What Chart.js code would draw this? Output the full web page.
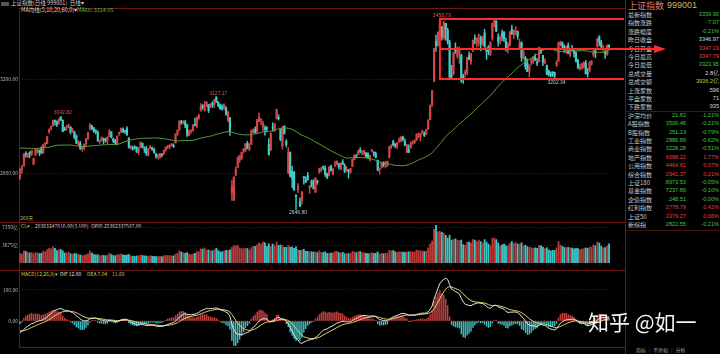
<!DOCTYPE html>
<html>
<head>
<meta charset="utf-8">
<script src="https://cdn.jsdelivr.net/npm/chart.js@4.4.0/dist/chart.umd.min.js"></script>
<style>
  body { margin: 0; background: #000; width: 720px; height: 354px; overflow: hidden; position: relative;
         font-family: "Noto Sans CJK SC", "Noto Sans", sans-serif; }
  .t { position: absolute; white-space: nowrap; line-height: 1; }
  .ln { position: absolute; background: #6e1717; }
  canvas { position: absolute; left: 0; z-index: 2; }
  #panel .t { font-size: 6px; }
  #panel .n { font-family: "Liberation Sans", sans-serif; font-size: 5.6px; }
</style>
</head>
<body>

<!-- frame -->
<div class="ln" style="left:19px;top:8px;width:606px;height:1px"></div>
<div class="ln" style="left:0;top:222px;width:625px;height:1px"></div>
<div class="ln" style="left:0;top:270px;width:625px;height:1px"></div>
<div class="ln" style="left:19px;top:347px;width:606px;height:1px"></div>
<div class="ln" style="left:19px;top:8px;width:1px;height:340px"></div>
<div class="ln" style="left:625px;top:0;width:1px;height:354px"></div>
<div class="ln" style="left:625px;top:111px;width:95px;height:1px;background:#4a1010"></div>
<div class="ln" style="left:625px;top:230px;width:95px;height:1px;background:#4a1010"></div>

<!-- header texts -->
<div class="t" style="left:1px;top:2px;width:8px;height:4px;background:#555"></div>
<div class="t" style="left:11px;top:1px;font-size:5.5px;color:#d0d0d0">上证指数(日线 999001)&nbsp;&nbsp;日线▾</div>
<div class="t" style="left:21px;top:8px;font-size:5.5px;color:#d8d8b0">MA均线(5,10,20,60,0)▾</div>
<div class="t" style="left:77px;top:8px;font-size:5.5px;color:#4ec04e">MA60: 3314.05</div>
<div class="t" style="left:20px;top:215px;font-size:5px;color:#c8a848">268天</div>
<div class="t" style="left:21px;top:223px;font-size:5px;color:#d8c848">CL▾</div>
<div class="t" style="left:35px;top:223px;font-size:5px;color:#d0d0d0">28363247616.00(3.100)</div>
<div class="t" style="left:91px;top:223px;font-size:5px;color:#d0d0d0">OPID 25362337587.00</div>
<div class="t" style="left:21px;top:271px;font-size:5px;color:#d8c848">MACD(12,26,9)▾</div>
<div class="t" style="left:60px;top:271px;font-size:5px;color:#e0e0e0">DIF 12.80</div>
<div class="t" style="left:87px;top:271px;font-size:5px;color:#d8c848">DEA 7.04</div>
<div class="t" style="left:112px;top:271px;font-size:5px;color:#d0c080">11.68</div>

<div id="panel"></div>

<div class="t" style="left:636px;top:347px;font-size:5px;color:#a0a0a0">指标 │ 不复权 │ 分析</div>
<div class="t" style="left:588px;top:311px;font-size:21px;color:#f4f4f4;z-index:3">知乎 @如一</div>

<canvas id="kline" width="720" height="214" style="top:8px"></canvas>
<canvas id="vol" width="720" height="48" style="top:222px"></canvas>
<canvas id="macd" width="720" height="84" style="top:270px"></canvas>

<script>
// trading days, month by month
const months = ['2019/08','2019/09','2019/10','2019/11','2019/12','2020/01','2020/02','2020/03',
                '2020/04','2020/05','2020/06','2020/07','2020/08','2020/09','2020/10','2020/11'];
const monthDays = [
  [15,16,19,20,21,22,23,26,27,28,29,30],
  [2,3,4,5,6,9,10,11,12,16,17,18,19,20,23,24,25,26,27,30],
  [8,9,10,11,14,15,16,17,18,21,22,23,24,25,28,29,30,31],
  [1,4,5,6,7,8,11,12,13,14,15,18,19,20,21,22,25,26,27,28,29],
  [2,3,4,5,6,9,10,11,12,13,16,17,18,19,20,23,24,25,26,27,30,31],
  [2,3,6,7,8,9,10,13,14,15,16,17,20,21,22,23],
  [3,4,5,6,7,10,11,12,13,14,17,18,19,20,21,24,25,26,27,28],
  [2,3,4,5,6,9,10,11,12,13,16,17,18,19,20,23,24,25,26,27,30,31],
  [1,2,3,7,8,9,10,13,14,15,16,17,20,21,22,23,24,27,28,29,30],
  [6,7,8,11,12,13,14,15,18,19,20,21,22,25,26,27,28,29],
  [1,2,3,4,5,8,9,10,11,12,15,16,17,18,19,22,23,24,29,30],
  [1,2,3,6,7,8,9,10,13,14,15,16,17,20,21,22,23,24,27,28,29,30,31],
  [3,4,5,6,7,10,11,12,13,14,17,18,19,20,21,24,25,26,27,28,31],
  [1,2,3,4,7,8,9,10,11,14,15,16,17,18,21,22,23,24,25,28,29,30],
  [9,12,13,14,15,16,19,20,21,22,23,26,27,28,29,30],
  [2,3,4,5,6,9,10,11,12,13,16,17]
];

const opens = [
  2780,2816,2831,2884,2872,2890,2884,2838,2879,2894,2894,2904,
  2888,2926,2928,2978,2991,3006,3025,3021,3014,3040,3027,2987,2994,3004,2998,2978,2977,2959,2925,2928,
  2905,2908,2926,2951,2992,3004,2994,2981,2976,2935,2942,2946,2947,2939,2957,2977,2947,2944,
  2924,2970,2976,2989,2980,2991,2951,2910,2910,2913,2910,2890,2910,2928,2905,2904,2876,2910,2910,2901,2882,
  2874,2871,2879,2882,2900,2914,2913,2920,2920,2930,2968,2984,3020,3017,3019,3007,2963,2981,2982,3006,3000,3037,
  3066,3089,3070,3085,3094,3083,3100,3096,3125,3105,3092,3085,3081,3080,3028,3038,
  2717,2685,2793,2826,2857,2864,2895,2898,2928,2903,2924,2976,2987,2981,3023,3027,2998,2994,2992,2924,
  2899,2996,2983,3033,3037,2988,2918,3002,2936,2804,2891,2809,2804,2703,2730,2679,2684,2783,2773,2791,2738,2768,
  2743,2720,2767,2805,2815,2828,2823,2798,2792,2830,2799,2836,2839,2842,2820,2848,2832,2813,2815,2804,2829,
  2859,2876,2880,2899,2891,2884,2887,2883,2862,2895,2890,2885,2856,2817,2826,2844,2838,2832,
  2869,2913,2935,2925,2916,2937,2937,2955,2937,2889,2903,2911,2933,2933,2941,2965,2955,2972,2972,2967,
  2991,3029,3093,3191,3364,3345,3407,3424,3373,3438,3411,3359,3215,3222,3327,3300,3313,3305,3214,3225,3229,3302,3275,
  3324,3377,3358,3385,3378,3349,3399,3329,3340,3308,3375,3440,3449,3381,3371,3398,3404,3362,3336,3346,3415,
  3389,3404,3406,3335,3358,3298,3294,3268,3235,3275,3275,3296,3271,3276,3333,3303,3272,3261,3236,3223,3232,3230,
  3262,3278,3354,3358,3342,3329,3347,3304,3330,3323,3313,3281,3245,3249,3256,3272,
  3229,3238,3265,3305,3323,3339,3383,3358,3339,3320,3309,3347
];
const highs = [
  2824,2834,2883,2893,2886,2893,2899,2865,2906,2905,2901,2914,
  2925,2931,2957,2990,3002,3027,3028,3024,3035,3042.82,3028,2997,3005,3010,2999,2993,2980,2965,2939,2937,
  2916,2925,2948,2976,3012,3004,2996,2987,2982,2942,2956,2950,2951,2956,2988,2978,2951,2944,
  2960,2976,2994,2994,2983,3000,2952,2919,2916,2918,2914,2911,2934,2930,2913,2916,2907,2920,2912,2908,2887,
  2881,2885,2885,2900,2913,2920,2923,2928,2926,2968,2985,3025,3027,3025,3026,3009,2983,2985,3007,3036,3041,3051,
  3098,3094,3107,3105,3095,3097,3105,3116,3127.17,3106,3097,3092,3096,3085,3066,3039,
  2772,2787,2828,2871,2878,2891,2907,2927,2937,2927,2984,2990,2999,3030,3058,3034,3023,3003,3000,2948,
  2973,3016,3012,3074,3050,2990,3000,3002,2944,2910,2891,2830,2809,2710,2757,2696,2723,2787,2785,2804,2749,2772,
  2773,2781,2771,2821,2826,2831,2832,2801,2828,2836,2821,2853,2853,2842,2845,2859,2841,2830,2817,2822,2861,
  2879,2880,2899,2910,2896,2898,2889,2889,2878,2903,2893,2891,2857,2824,2847,2850,2851,2853,
  2915,2922,2941,2927,2931,2953,2956,2959,2947,2925,2922,2932,2939,2944,2968,2973,2971,2985,2977,2989,
  3030,3091,3153,3333,3390,3403,3458.79,3427,3448,3440,3419,3368,3261,3318,3357,3340,3340,3309,3224,3241,3294,3318,3312,
  3368,3391,3377,3394,3386,3385,3414,3336,3345,3361,3442,3458,3451,3396,3387,3412,3404,3377,3359,3404,3432,
  3411,3426,3407,3373,3361,3326,3298,3287,3263,3287,3298,3309,3290,3339,3334,3303,3290,3262,3241,3233,3234,3232,
  3281,3359,3363,3360,3349,3343,3357,3329,3346,3326,3321,3287,3265,3270,3276,3282,
  3248,3278,3282,3325,3325,3375,3387,3367,3346,3323,3347,3348
];
const lows = [
  2773,2801,2831,2869,2866,2867,2876,2838,2877,2886,2876,2883,
  2886,2914,2926,2970,2984,3000,3006,2999,3010,3025,2978,2983,2985,2995,2968,2975,2947,2927,2918,2902,
  2895,2900,2919,2944,2985,2985,2975,2968,2937,2928,2938,2925,2933,2925,2957,2951,2931,2925,
  2922,2962,2975,2974,2970,2962,2909,2902,2899,2903,2889,2880,2910,2909,2889,2877,2874,2905,2898,2885,2865,
  2861,2863,2870,2882,2895,2906,2905,2916,2910,2930,2962,2984,3009,3011,2995,2957,2961,2970,2980,3003,2996,3030,
  3066,3074,3065,3085,3059,3080,3081,3080,3102,3083,3074,3070,3071,3047,3021,2962,
  2685,2685,2790,2826,2847,2859,2887,2893,2905,2896,2924,2973,2970,2973,3019,3008,2981,2963,2977,2878,
  2899,2980,2979,3032,3028,2940,2904,2968,2913,2799,2785,2738,2728,2646.80,2718,2658,2669,2754,2759,2772,2715,2742,
  2733,2719,2753,2800,2808,2816,2787,2778,2789,2811,2793,2829,2837,2819,2815,2837,2803,2807,2780,2801,2828,
  2858,2866,2880,2887,2879,2878,2869,2866,2852,2892,2873,2866,2811,2796,2823,2828,2823,2830,
  2865,2905,2917,2910,2905,2932,2934,2939,2918,2888,2890,2908,2924,2927,2941,2951,2938,2971,2957,2966,
  2987,3028,3085,3191,3320,3342,3400,3368,3373,3368,3351,3208,3201,3222,3312,3292,3270,3188,3184,3211,3220,3284,3265,
  3318,3352,3339,3344,3323,3346,3338,3286,3306,3301,3368,3424,3404,3343,3352,3366,3362,3321,3314,3343,3392,
  3373,3392,3372,3328,3277,3287,3244,3234,3212,3263,3268,3281,3259,3276,3310,3259,3268,3221,3215,3211,3213,3202.34,
  3256,3278,3344,3335,3316,3312,3310,3297,3322,3296,3274,3245,3240,3244,3249,3223,
  3210,3232,3262,3298,3293,3339,3345,3331,3321,3290,3303,3324
];
const closes = [
  2816,2824,2883,2880,2880,2883,2897,2864,2902,2894,2891,2886,
  2924,2930,2957,2986,3000,3025,3021,3009,3031,3031,2978,2985,2999,3006,2977,2985,2955,2929,2932,2905,
  2914,2925,2948,2974,3008,2991,2979,2977,2938,2940,2954,2941,2940,2955,2980,2954,2939,2929,
  2958,2975,2992,2979,2979,2964,2909,2915,2905,2910,2891,2909,2934,2911,2904,2885,2906,2913,2903,2890,2872,
  2876,2885,2878,2899,2912,2914,2917,2924,2916,2968,2984,3022,3017,3017,3005,2963,2983,2982,3007,3005,3040,3050,
  3085,3084,3083,3105,3067,3095,3092,3116,3107,3090,3074,3076,3096,3052,3061,2977,
  2747,2783,2818,2867,2876,2890,2902,2927,2906,2917,2984,2985,2975,3030,3040,3031,3013,2988,2991,2880,
  2971,2993,3012,3072,3035,2943,2997,2969,2923,2887,2789,2780,2729,2702,2746,2660,2722,2782,2765,2772,2747,2750,
  2735,2781,2764,2821,2815,2826,2797,2783,2827,2811,2820,2838,2853,2827,2844,2839,2809,2815,2810,2822,2860,
  2878,2872,2895,2895,2892,2898,2870,2868,2875,2899,2884,2868,2814,2818,2847,2837,2846,2852,
  2915,2921,2923,2919,2931,2938,2956,2944,2921,2920,2890,2932,2936,2939,2968,2965,2971,2980,2962,2985,
  3026,3091,3153,3333,3345,3403,3451,3383,3443,3415,3361,3210,3214,3314,3321,3333,3325,3197,3205,3228,3295,3287,3310,
  3368,3372,3378,3386,3354,3379,3340,3319,3321,3360,3439,3451,3408,3364,3381,3386,3374,3330,3350,3404,3396,
  3411,3405,3385,3355,3293,3316,3255,3235,3260,3279,3296,3284,3270,3338,3317,3274,3280,3223,3219,3218,3224,3218,
  3272,3358,3360,3341,3332,3336,3313,3328,3325,3312,3278,3251,3254,3269,3273,3225,
  3225,3271,3277,3320,3312,3374,3360,3342,3339,3310,3347,3340
];
// turnover, 亿
const volumes = [
  1950,1850,2450,2400,2150,2050,2150,1900,2150,2050,1950,2000,
  2450,2300,2750,3000,2900,3300,3000,2550,2650,2800,2500,2050,2050,2200,1900,1800,1950,1900,1750,1650,
  1500,1550,1700,1900,2450,2050,1750,1650,1700,1500,1550,1550,1500,1600,2000,1750,1550,1500,
  1700,1700,1850,1650,1550,1650,1750,1450,1400,1350,1450,1450,1650,1550,1450,1450,1350,1500,1400,1350,1300,
  1300,1350,1300,1500,1550,1550,1500,1450,1450,1800,2000,2500,2250,2100,2000,2150,1800,1750,1850,2000,2300,2350,
  2900,2850,3100,2650,2650,2500,2500,2700,3000,2550,2300,2300,2450,2600,2550,2700,
  3200,3550,3450,3650,3100,2950,2950,3050,2950,2650,3150,3450,3400,3750,4150,3900,4300,4150,3400,3950,
  3400,3900,3500,4300,3600,3700,3600,3200,3200,3600,3250,3300,3000,3300,2700,2600,2650,2800,2400,2400,2300,2300,
  2250,2300,2100,2500,2200,2150,2300,1950,2000,2050,2100,2350,2400,2150,2050,2200,1900,1900,1950,1950,2350,
  2300,2100,2300,2350,2100,2100,2000,1950,1950,2150,1950,2000,2300,1850,2000,1900,2000,2000,
  2600,2500,2550,2300,2150,2300,2300,2250,2200,2250,2300,2350,2250,2300,2650,2550,2500,2450,2350,2450,
  3100,3950,4500,6900,7700,6400,6500,6300,6100,5700,5100,5700,4700,4800,4950,4700,4600,4700,3750,3650,4250,4300,4100,
  4800,4700,4400,4700,4400,4100,4800,4300,3900,3550,5100,5100,4800,4100,3500,3700,3900,3500,3500,4050,4400,
  4000,4200,3900,3850,4150,3500,3650,3350,3200,3150,3000,3100,3000,3600,3500,3250,2950,3150,2700,2500,2600,2600,
  3100,4400,3700,3400,3200,3150,3200,3150,3050,2900,3000,2950,2750,2900,2900,3100,
  3000,3200,3300,3700,3500,4300,4100,3450,3100,3150,3450,3936
];
// closes before the first visible day (2019/05/20 - 2019/08/14), for MA60 / MACD
const preCloses = [
  2870,2905,2891,2852,2852,2892,2909,2914,2905,2898,
  2890,2862,2861,2827,2852,2925,2909,2910,2882,2887,2890,2917,2987,3001,3008,2982,2976,2996,2979,
  3044,3043,3005,2996,3011,2933,2928,2915,2917,2930,2942,2937,2931,2901,2924,2886,2899,2923,2937,2944,2941,2952,2932,
  2908,2868,2821,2778,2768,2794,2775,2815,2797,2808
];

const tickDates = ['2019/11/01','2020/01/02','2020/04/01','2020/07/01','2020/09/01','2020/11/17'];
const highMarks = ['2019/09/16','2020/01/14','2020/07/09'];
const lowMarks = ['2020/03/19','2020/09/30'];
const boxFrom = '2020/07/09', boxTo = '2020/09/30';

const priceTicks = [2800, 3200];
const volTicks = [3675, 7350];
const macdTicks = [0, 100];

// right-hand quote panel
const quoteNames = ['最新指数','指数涨跌','涨跌幅度','昨日收盘','今日开盘','今日最高','今日最低','总成交量','总成交额','上涨家数','平盘家数','下跌家数'];
const quoteValues = ['3339.90','-7.07','-0.21%','3346.97','3347.19','3347.79','3323.95','2.8亿','3936.2亿','596','71','935'];
const quoteTone = ['g','g','g','w','r','r','g','w','y','w','w','w'];
const indexNames = ['沪深均价','A股指数','B股指数','工业指数','商业指数','地产指数','公用指数','综合指数','上证180','基金指数','企债指数','红利指数','上证50','新综指'];
const indexValues = ['21.82','3506.46','251.13','2886.89','3228.28','6688.22','4464.61','2941.37','8973.53','7237.89','248.51','2778.79','3379.27','2822.55'];
const indexChanges = ['-1.21%','-0.21%','-0.79%','-0.62%','-0.51%','1.77%','0.07%','0.21%','-0.05%','-0.10%','-0.00%','0.42%','0.06%','-0.21%'];

const dates = [];
months.forEach((m, k) => monthDays[k].forEach(d => dates.push(m + '/' + String(d).padStart(2, '0'))));

// indicators
const allCloses = preCloses.concat(closes);
const ma60 = closes.map((c, i) => {
  const e = preCloses.length + i;
  let s = 0;
  for (let k = e - 59; k <= e; k++) s += allCloses[k];
  return s / 60;
});
const difs = [], deas = [], bars = [];
let e12 = allCloses[0], e26 = allCloses[0], dea = 0;
allCloses.forEach((c, k) => {
  e12 = (2 * c + 11 * e12) / 13;
  e26 = (2 * c + 25 * e26) / 27;
  const dif = e12 - e26;
  dea = (2 * dif + 8 * dea) / 10;
  if (k >= preCloses.length) { difs.push(dif); deas.push(dea); bars.push(2 * (dif - dea)); }
});

// panel
const tone = { g: '#3fc43f', r: '#e04040', w: '#d8d8d8', y: '#b8d040' };
const panel = document.getElementById('panel');
function addText(html, css) {
  const d = document.createElement('div');
  d.className = 't';
  d.style.cssText = css;
  d.innerHTML = html;
  panel.appendChild(d);
  return d;
}
addText('上证指数', 'left:628px;top:1px;font-size:9px;color:#e07868');
addText('999001', 'left:667px;top:1px;font-size:9px;color:#d8b060;font-family:"Liberation Sans"');
quoteNames.forEach((n, i) => {
  const y = 12 + i * 8.4;
  addText(n, `left:628px;top:${y}px;color:#c8c8c8`);
  const v = addText(quoteValues[i], `right:1px;top:${y}px;color:${tone[quoteTone[i]]}`);
  v.classList.add('n');
});
indexNames.forEach((n, j) => {
  const y = 12 + (12 + j) * 8.4;
  const c = indexChanges[j].startsWith('-') ? tone.g : tone.r;
  addText(n, `left:628px;top:${y}px;color:#c8c8c8`);
  addText(indexValues[j], `right:34px;top:${y}px;color:${c}`).classList.add('n');
  addText(indexChanges[j], `right:1px;top:${y}px;color:${c}`).classList.add('n');
});

// charts
const UP = '#d44646', DOWN = '#44cccc';
const isUp = i => closes[i] >= opens[i];
const candleColor = ctx => isUp(ctx.dataIndex) ? UP : DOWN;

function options(yMin, yMax, ticks, fmt, showX) {
  return {
    responsive: false, animation: false, events: [], devicePixelRatio: 1,
    layout: { padding: { left: 0, right: 110, top: 0, bottom: 0 } },
    plugins: { legend: { display: false }, tooltip: { enabled: false } },
    scales: {
      x: {
        type: 'category', offset: true, display: showX,
        grid: { display: false }, border: { display: false },
        ticks: {
          autoSkip: false, maxRotation: 0, minRotation: 0, padding: 1,
          color: '#9c8c8c', font: { size: 5, family: 'Liberation Sans' },
          callback: (v) => tickDates.includes(dates[v]) ? dates[v] : ''
        },
        afterFit: s => { s.height = 7; s.paddingLeft = 0; s.paddingRight = 0; }
      },
      y: {
        type: 'linear', min: yMin, max: yMax,
        afterBuildTicks: s => { s.ticks = ticks.map(v => ({ value: v })); },
        afterFit: s => { s.width = 19; s.paddingTop = 0; s.paddingBottom = 0; },
        grid: { color: '#5e1414', drawTicks: false },
        border: { display: false, dash: [1, 2] },
        ticks: { padding: 1, color: '#b4b4b4', font: { size: 5, family: 'Noto Sans CJK SC' }, callback: fmt }
      }
    }
  };
}

const marks = {
  id: 'marks',
  afterDatasetsDraw(chart) {
    const { ctx, chartArea } = chart;
    const x = chart.scales.x, y = chart.scales.y;
    ctx.save();
    ctx.font = '5px "Liberation Sans"';
    ctx.textAlign = 'center';
    ctx.fillStyle = '#e05555';
    ctx.textBaseline = 'bottom';
    highMarks.forEach(d => {
      const i = dates.indexOf(d);
      ctx.fillText(highs[i].toFixed(2), x.getPixelForValue(i) + 2, y.getPixelForValue(highs[i]) - 1);
    });
    ctx.fillStyle = '#a8d4d4';
    ctx.textBaseline = 'top';
    lowMarks.forEach(d => {
      const i = dates.indexOf(d);
      ctx.fillText(lows[i].toFixed(2), x.getPixelForValue(i) + 2, y.getPixelForValue(lows[i]) + 1);
    });

    // hand-drawn range box with midline arrow
    const i0 = dates.indexOf(boxFrom), i1 = dates.indexOf(boxTo);
    const top = y.getPixelForValue(highs[i0]);
    const bot = y.getPixelForValue(lows[i1]);
    const mid = y.getPixelForValue((highs[i0] + lows[i1]) / 2);
    const left = x.getPixelForValue(i0);
    const right = chartArea.right + 14;
    ctx.strokeStyle = '#ff2a2a';
    ctx.fillStyle = '#ff2a2a';
    ctx.lineWidth = 2;
    ctx.beginPath();
    ctx.moveTo(right, top); ctx.lineTo(left, top); ctx.lineTo(left, bot); ctx.lineTo(right, bot);
    ctx.stroke();
    ctx.beginPath();
    ctx.moveTo(left, mid); ctx.lineTo(chartArea.right + 46, mid);
    ctx.stroke();
    ctx.beginPath();
    ctx.moveTo(chartArea.right + 56, mid);
    ctx.lineTo(chartArea.right + 44, mid - 4);
    ctx.lineTo(chartArea.right + 44, mid + 4);
    ctx.closePath();
    ctx.fill();
    ctx.restore();
  }
};

// K-line with MA60
new Chart(document.getElementById('kline'), {
  data: {
    labels: dates,
    datasets: [
      { type: 'line', data: ma60, borderColor: '#5a9e3c', borderWidth: 1, pointRadius: 0, order: 0 },
      { type: 'bar', data: lows.map((l, i) => [l, highs[i]]), backgroundColor: candleColor,
        barThickness: 0.8, grouped: false, order: 2 },
      { type: 'bar', data: opens.map((o, i) => [o, closes[i]]), backgroundColor: candleColor,
        barThickness: 1.5, minBarLength: 1, grouped: false, order: 1 }
    ]
  },
  options: options(2622.7, 3505.2, priceTicks, v => v.toFixed(2), false),
  plugins: [marks]
});

// turnover
new Chart(document.getElementById('vol'), {
  data: {
    labels: dates,
    datasets: [
      { type: 'bar', data: volumes, barThickness: 1.2,
        backgroundColor: ctx => isUp(ctx.dataIndex) ? '#b83a3a' : '#3cc4c4' }
    ]
  },
  options: options(0, 8400, volTicks, v => v + '亿', false)
});

// MACD
new Chart(document.getElementById('macd'), {
  data: {
    labels: dates,
    datasets: [
      { type: 'line', data: difs, borderColor: '#e6e6e6', borderWidth: 1, pointRadius: 0, order: 0 },
      { type: 'line', data: deas, borderColor: '#e6d468', borderWidth: 1, pointRadius: 0, order: 1 },
      { type: 'bar', data: bars, barThickness: 0.8, order: 2,
        backgroundColor: ctx => bars[ctx.dataIndex] >= 0 ? '#c84040' : '#3fbcbc' }
    ]
  },
  options: options(-83.9, 164.5, macdTicks, v => v.toFixed(2), true)
});
</script>
</body>
</html>
